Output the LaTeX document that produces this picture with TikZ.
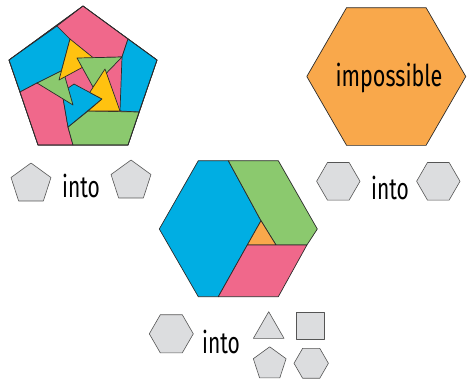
\documentclass[tikz,border=0pt]{standalone}
\usepackage{fontspec}
\setmainfont{Fira Sans}
\definecolor{cpink}{HTML}{F0688B}
\definecolor{cblue}{HTML}{00AEE3}
\definecolor{cgreen}{HTML}{8BC96E}
\definecolor{cyellow}{HTML}{FFC210}
\definecolor{corange}{HTML}{F9A84B}
\definecolor{cgray}{HTML}{DCDDDF}
\definecolor{cline}{HTML}{2B2B2B}
\tikzset{
  piece/.style={draw=cline, line width=0.7pt, line join=round},
  small/.style={fill=cgray, draw=cline!80, line width=0.6pt, line join=round},
  lbl/.style={font=\fontsize{30}{30}\selectfont, inner sep=0pt, anchor=base, text=black}
}
\newcommand{\regpoly}[6]{% style, cx, cy, R, n, start angle
  \draw[#1] plot[samples at={0,...,\numexpr#5-1\relax}] ({#2+#4*cos(#6+360/#5*\x)},{#3-#4*sin(#6+360/#5*\x)}) -- cycle;}
\begin{document}
\begin{tikzpicture}[x=1pt,y=-1pt]
\useasboundingbox (0,0) rectangle (470,384);
% ---------- big pentagon dissection ----------
\fill[cpink, piece] (83,6) -- (157,60) -- (128,145) -- (38,145) -- (9,60) -- cycle;
\filldraw[cblue, piece] (9,60) -- (57,26) -- (70,39) -- (59,80) -- (37,83) -- (20,92) -- cycle;
\filldraw[cpink, piece] (57,26) -- (83,6) -- (128,39) -- (122,57) -- (77,58) -- (70,39) -- cycle;
\filldraw[cblue, piece] (128,39) -- (157,60) -- (139,112) -- (120,111) -- (122,57) -- cycle;
\filldraw[cpink, piece] (20,92) -- (37,83) -- (62,92) -- (68,127) -- (73,145) -- (38,145) -- cycle;
\filldraw[cgreen, piece] (139,112) -- (128,145) -- (73,145) -- (68,127) -- (88,111) -- cycle;
\filldraw[cblue, piece] (62,92) -- (74,84) -- (102,99) -- (68,127) -- cycle;
\filldraw[cgreen, piece] (37,83) -- (63,70) -- (73,105) -- cycle;
\filldraw[cyellow, piece] (70,39) -- (96,60) -- (59,80) -- cycle;
\filldraw[cgreen, piece] (77,58) -- (122,57) -- (93,87) -- cycle;
\filldraw[cyellow, piece] (105,69) -- (120,111) -- (88,111) -- (102,99) -- (89.7,92.4) -- cycle;
\draw[piece, fill=none] (83,6) -- (157,60) -- (128,145) -- (38,145) -- (9,60) -- cycle;
% ---------- impossible hexagon ----------
\regpoly{piece, fill=corange}{386.3}{76.5}{79.5}{6}{0}
\node[lbl] (imp) at (389,86) {\scalebox{0.72}[1]{impossible}};
% ---------- big hexagon dissection ----------
\filldraw[cblue, piece] (198.3,160.7) -- (228.3,160.7) -- (261,220.7) -- (247.3,245) -- (218.3,296.7) -- (198.3,296.7) -- (159.3,229) -- cycle;
\filldraw[cgreen, piece] (228.3,160.7) -- (278.3,160.7) -- (317.3,229) -- (306.9,245) -- (276,245) -- (261,220.7) -- cycle;
\filldraw[corange, piece] (261,220.7) -- (276,245) -- (247.3,245) -- cycle;
\filldraw[cpink, piece] (247.3,245) -- (306.9,245) -- (278.3,296.7) -- (218.3,296.7) -- cycle;
% ---------- small shapes ----------
\regpoly{small}{31}{184}{21}{5}{90}
\regpoly{small}{131}{181}{21}{5}{90}
\node[lbl] (into1) at (81,197.7) {\scalebox{0.7}[1]{into}};
\regpoly{small}{338.3}{181.3}{21.7}{6}{0}
\regpoly{small}{438.3}{181.3}{21.7}{6}{0}
\node[lbl] (into2) at (390,199.3) {\scalebox{0.7}[1]{into}};
\regpoly{small}{171.3}{333.8}{22}{6}{0}
\node[lbl] (into3) at (221,353.3) {\scalebox{0.7}[1]{into}};
\draw[small] (268.7,311.7) -- (284,338.3) -- (253.4,338.3) -- cycle;
\draw[small] (296,312) rectangle (324,339);
\regpoly{small}{269.7}{364}{17.2}{5}{90}
\regpoly{small}{311.2}{363.3}{17.2}{6}{0}
\end{tikzpicture}
\end{document}
